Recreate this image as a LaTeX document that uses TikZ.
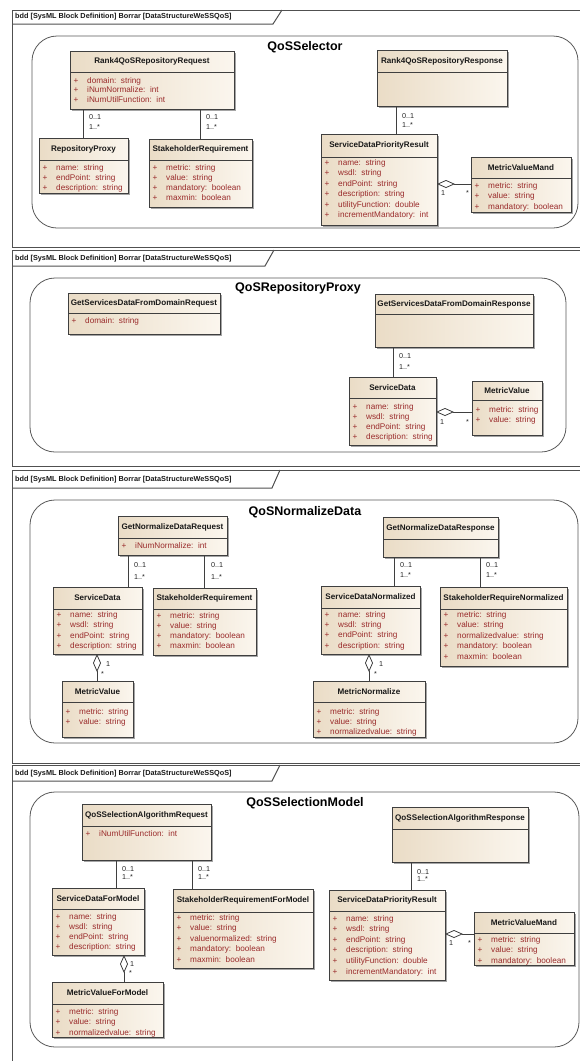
\documentclass[tikz,border=0pt]{standalone}
\usepackage{fontspec}
\setmainfont{Liberation Sans}
\usetikzlibrary{arrows.meta,shadows}
\definecolor{boxdark}{HTML}{EADCC6}
\definecolor{boxlight}{HTML}{FBF6EE}
\definecolor{attrred}{HTML}{9A2B2B}
\definecolor{edgecol}{HTML}{3F3F3F}
\definecolor{framecol}{HTML}{505050}
\definecolor{contcol}{HTML}{5A5A5A}
\tikzset{
 clsbox/.style={draw=edgecol, line width=0.9pt, left color=boxdark, right color=boxlight,
   inner sep=0pt, outer sep=0pt,
   drop shadow={shadow xshift=1.6pt, shadow yshift=-1.6pt, fill=black!50, opacity=0.7}},
 clsline/.style={draw=edgecol, line width=0.8pt},
 clsname/.style={font=\bfseries\fontsize{8.1}{9}\selectfont, text=black!90, inner sep=0pt},
 attrplus/.style={font=\fontsize{8.2}{9}\selectfont, text=attrred, inner sep=0pt, text height=5.5pt, text depth=1.5pt},
 attrtext/.style={font=\fontsize{8.2}{9}\selectfont, text=attrred, inner sep=0pt, anchor=west, text height=5.5pt, text depth=1.5pt},
 conn/.style={draw=edgecol, line width=0.8pt},
 agg/.style={conn, {Diamond[fill=white,length=18pt,width=8pt]}-},
 mult/.style={font=\fontsize{7.2}{8}\selectfont, text=black!85, anchor=west, inner sep=0pt},
 cont/.style={draw=contcol, line width=0.8pt, rounded corners=25pt, fill=white, inner sep=0pt, outer sep=0pt},
 ptitle/.style={font=\bfseries\fontsize{12.5}{14}\selectfont, inner sep=0pt},
 framel/.style={draw=framecol, line width=1pt},
 hdr/.style={font=\bfseries\fontsize{7.3}{8}\selectfont, anchor=west, inner sep=0pt, text=black!90}
}
\newcommand{\cls}[7]{%
  \node[clsbox, minimum width={(#4-#2)*1pt}, minimum height={(#5-#3)*1pt}] (#1) at ({(#2+#4)/2},{(#3+#5)/2}) {};
  \draw[clsline] (#1.west |- 0,#6) -- (#1.east |- 0,#6);
  \node[clsname] (#1-name) at ({(#2+#4)/2},{(#3+#6)/2}) {#7};
}
\newcommand{\attrs}[5]{%
  \foreach \ltxt [count=\i from 0] in {#5} {
    \node[attrplus] (#1-p\i) at ({#2+6},{#3+\i*#4}) {+};
    \node[attrtext] (#1-a\i) at ({#2+17},{#3+\i*#4}) {\ltxt};
  }
}
\begin{document}
\begin{tikzpicture}[x=1pt,y=-1pt]
\useasboundingbox (0,0) rectangle (580,1061);
\clip (0,0) rectangle (580,1061);
\fill[white] (0,0) rectangle (580,1061);

% ================= Panel 1 =================
\draw[framel] (600,10) -- (12,10) -- (12,247) -- (600,247);
\draw[framel] (12,24) -- (273,24) -- (282,10);
\node[hdr] (h1) at (15,17) {bdd [SysML Block Definition] Borrar [DataStructureWeSSQoS]};
\node[cont, minimum width=546pt, minimum height=192pt] (c1) at (305,132) {};
\node[ptitle] (t1) at (305,47) {QoSSelector};

\cls{rreq}{70}{51}{234}{109}{72}{Rank4QoSRepositoryRequest}
\attrs{rreq}{70}{81}{9.7}{domain:\ \ string,iNumNormalize:\ \ int,iNumUtilFunction:\ \ int}
\cls{rresp}{377}{50}{507}{106}{72}{Rank4QoSRepositoryResponse}
\cls{rproxy}{39}{138}{128}{193}{160}{RepositoryProxy}
\attrs{rproxy}{39}{168}{10.4}{name:\ \ string,endPoint:\ \ string,description:\ \ string}
\cls{sreq}{149}{139}{252}{207}{160}{StakeholderRequirement}
\attrs{sreq}{149}{168}{10.3}{metric:\ \ string,value:\ \ string,mandatory:\ \ boolean,maxmin:\ \ boolean}
\cls{sdpr}{321}{134}{437}{225}{157}{ServiceDataPriorityResult}
\attrs{sdpr}{321}{163}{10.5}{name:\ \ string,wsdl:\ \ string,endPoint:\ \ string,description:\ \ string,utilityFunction:\ \ double,incrementMandatory:\ \ int}
\cls{mvm}{471}{157}{571}{212}{178}{MetricValueMand}
\attrs{mvm}{471}{186}{10.5}{metric:\ \ string,value:\ \ string,mandatory:\ \ boolean}

\draw[conn] (rreq.south -| 83,0) -- (rproxy.north -| 83,0);
\draw[conn] (rreq.south -| 200,0) -- (sreq.north -| 200,0);
\draw[conn] (rresp.south -| 396,0) -- (sdpr.north -| 396,0);
\draw[agg] (sdpr.east |- 0,184) -- (mvm.west |- 0,184);
\node[mult] (m1a) at (89,117) {0..1};
\node[mult] (m1b) at (89,127) {1..*};
\node[mult] (m1c) at (206,117) {0..1};
\node[mult] (m1d) at (206,127) {1..*};
\node[mult] (m1e) at (402,116) {0..1};
\node[mult] (m1f) at (402,125) {1..*};
\node[mult] (m1g) at (441,193) {1};
\node[mult] (m1h) at (466,193) {*};

% ================= Panel 2 =================
\draw[framel] (600,250) -- (12,250) -- (12,466) -- (600,466);
\draw[framel] (12,266) -- (265,266) -- (274,250);
\node[hdr] (h2) at (15,259) {bdd [SysML Block Definition] Borrar [DataStructureWeSSQoS]};
\node[cont, minimum width=536pt, minimum height=174pt] (c2) at (298,365) {};
\node[ptitle] (t2) at (298,288) {QoSRepositoryProxy};

\cls{greq}{68}{293}{220}{334}{313}{GetServicesDataFromDomainRequest}
\attrs{greq}{68}{321}{10}{domain:\ \ string}
\cls{gresp}{375}{294}{533}{347}{314}{GetServicesDataFromDomainResponse}
\cls{sd2}{349}{377}{436}{445}{398}{ServiceData}
\attrs{sd2}{349}{407}{10.2}{name:\ \ string,wsdl:\ \ string,endPoint:\ \ string,description:\ \ string}
\cls{mv2}{472}{381}{542}{435}{400}{MetricValue}
\attrs{mv2}{472}{410}{10.5}{metric:\ \ string,value:\ \ string}

\draw[conn] (gresp.south -| 393,0) -- (sd2.north -| 393,0);
\draw[agg] (sd2.east |- 0,412) -- (mv2.west |- 0,412);
\node[mult] (m2a) at (399,356) {0..1};
\node[mult] (m2b) at (399,367) {1..*};
\node[mult] (m2c) at (440,422) {1};
\node[mult] (m2d) at (466,422) {*};

% ================= Panel 3 =================
\draw[framel] (600,470) -- (12,470) -- (12,763) -- (600,763);
\draw[framel] (12,488) -- (272,488) -- (280,470);
\node[hdr] (h3) at (15,480) {bdd [SysML Block Definition] Borrar [DataStructureWeSSQoS]};
\node[cont, minimum width=548pt, minimum height=243pt] (c3) at (304,621.5) {};
\node[ptitle] (t3) at (305,512) {QoSNormalizeData};

\cls{gnreq}{118}{516}{227}{555}{538}{GetNormalizeDataRequest}
\attrs{gnreq}{118}{546}{10}{iNumNormalize:\ \ int}
\cls{sd3}{53}{587}{142}{654}{609}{ServiceData}
\attrs{sd3}{53}{615}{10.5}{name:\ \ string,wsdl:\ \ string,endPoint:\ \ string,description:\ \ string}
\cls{sr3}{153}{588}{256}{655}{609}{StakeholderRequirement}
\attrs{sr3}{153}{616}{10.3}{metric:\ \ string,value:\ \ string,mandatory:\ \ boolean,maxmin:\ \ boolean}
\cls{mv3}{62}{681}{133}{737}{702}{MetricValue}
\attrs{mv3}{62}{712}{10.5}{metric:\ \ string,value:\ \ string}
\cls{gnresp}{383}{517}{498}{557}{539}{GetNormalizeDataResponse}
\cls{sdn}{321}{586}{420}{654}{608}{ServiceDataNormalized}
\attrs{sdn}{321}{615}{10.4}{name:\ \ string,wsdl:\ \ string,endPoint:\ \ string,description:\ \ string}
\cls{srn}{440}{587}{567}{666}{609}{StakeholderRequireNormalized}
\attrs{srn}{440}{615}{10.5}{metric:\ \ string,value:\ \ string,normalizedvalue:\ \ string,mandatory:\ \ boolean,maxmin:\ \ boolean}
\cls{mn}{313}{681}{425}{737}{702}{MetricNormalize}
\attrs{mn}{313}{712}{10.3}{metric:\ \ string,value:\ \ string,normalizedvalue:\ \ string}

\draw[conn] (gnreq.south -| 128,0) -- (sd3.north -| 128,0);
\draw[conn] (gnreq.south -| 204,0) -- (sr3.north -| 204,0);
\draw[conn] (gnresp.south -| 394,0) -- (sdn.north -| 394,0);
\draw[conn] (gnresp.south -| 480,0) -- (srn.north -| 480,0);
\draw[agg] (sd3.south -| 97,0) -- (mv3.north -| 97,0);
\draw[agg] (sdn.south -| 369,0) -- (mn.north -| 369,0);
\node[mult] (m3a) at (134,565) {0..1};
\node[mult] (m3b) at (134,577) {1..*};
\node[mult] (m3c) at (211,565) {0..1};
\node[mult] (m3d) at (211,577) {1..*};
\node[mult] (m3e) at (400,565) {0..1};
\node[mult] (m3f) at (400,575) {1..*};
\node[mult] (m3g) at (486,565) {0..1};
\node[mult] (m3h) at (486,575) {1..*};
\node[mult] (m3i) at (106,664) {1};
\node[mult] (m3j) at (101,674) {*};
\node[mult] (m3k) at (379,664) {1};
\node[mult] (m3l) at (374,674) {*};

% ================= Panel 4 =================
\draw[framel] (600,765) -- (12,765) -- (12,1070);
\draw[framel] (12,781) -- (272,781) -- (280,765);
\node[hdr] (h4) at (15,774) {bdd [SysML Block Definition] Borrar [DataStructureWeSSQoS]};
\node[cont, minimum width=549pt, minimum height=255pt] (c4) at (304.5,919.5) {};
\node[ptitle] (t4) at (305,803) {QoSSelectionModel};

\cls{qreq}{82}{804}{211}{860}{826}{QoSSelectionAlgorithmRequest}
\attrs{qreq}{82}{834}{10}{iNumUtilFunction:\ \ int}
\cls{sdm}{52}{888}{144}{955}{909}{ServiceDataForModel}
\attrs{sdm}{52}{917}{10.3}{name:\ \ string,wsdl:\ \ string,endPoint:\ \ string,description:\ \ string}
\cls{srm}{173}{889}{313}{968}{912}{StakeholderRequirementForModel}
\attrs{srm}{173}{918}{10.5}{metric:\ \ string,value:\ \ string,valuenormalized:\ \ string,mandatory:\ \ boolean,maxmin:\ \ boolean}
\cls{mvfm}{52}{982}{163}{1037}{1004}{MetricValueForModel}
\attrs{mvfm}{52}{1012}{10.5}{metric:\ \ string,value:\ \ string,normalizedvalue:\ \ string}
\cls{qresp}{392}{807}{528}{862}{829}{QoSSelectionAlgorithmResponse}
\cls{sdpr4}{329}{890}{445}{980}{911}{ServiceDataPriorityResult}
\attrs{sdpr4}{329}{919}{10.6}{name:\ \ string,wsdl:\ \ string,endPoint:\ \ string,description:\ \ string,utilityFunction:\ \ double,incrementMandatory:\ \ int}
\cls{mvm4}{474}{912}{574}{965}{933}{MetricValueMand}
\attrs{mvm4}{474}{940}{10.5}{metric:\ \ string,value:\ \ string,mandatory:\ \ boolean}

\draw[conn] (qreq.south -| 116,0) -- (sdm.north -| 116,0);
\draw[conn] (qreq.south -| 192,0) -- (srm.north -| 192,0);
\draw[conn] (qresp.south -| 411,0) -- (sdpr4.north -| 411,0);
\draw[agg] (sdm.south -| 124,0) -- (mvfm.north -| 124,0);
\draw[agg] (sdpr4.east |- 0,934) -- (mvm4.west |- 0,934);
\node[mult] (m4a) at (122,869) {0..1};
\node[mult] (m4b) at (122,877) {1..*};
\node[mult] (m4c) at (198,869) {0..1};
\node[mult] (m4d) at (198,877) {1..*};
\node[mult] (m4e) at (417,872) {0..1};
\node[mult] (m4f) at (417,879) {1..*};
\node[mult] (m4g) at (130,964) {1};
\node[mult] (m4h) at (129,973) {*};
\node[mult] (m4i) at (449,943) {1};
\node[mult] (m4j) at (468,943) {*};
\end{tikzpicture}
\end{document}
